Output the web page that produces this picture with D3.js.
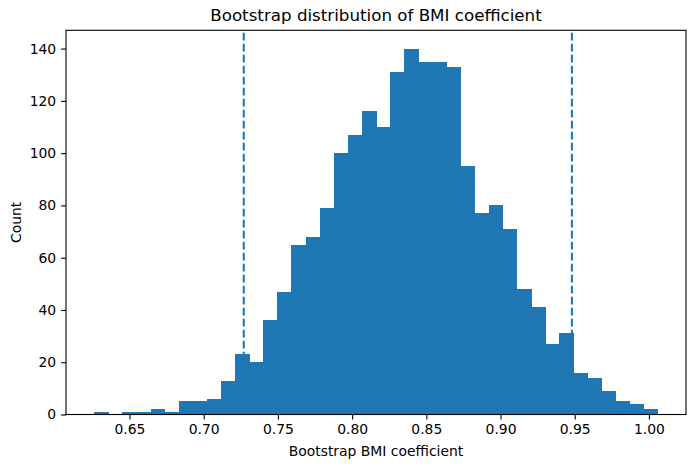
<!DOCTYPE html>
<html>
<head>
<meta charset="utf-8">
<script src="https://cdn.jsdelivr.net/npm/d3@7"></script>
<style>
  html, body { margin: 0; padding: 0; background: #fff; }
  svg { display: block; font-family: "DejaVu Sans", sans-serif; }
</style>
</head>
<body>
<svg id="chart" width="695" height="468"></svg>
<script>
// ---- data ----
const counts = [1, 0, 1, 1, 2, 1, 5, 5, 6, 13, 23, 20, 36, 47, 65, 68, 79, 100, 107, 116,
                110, 131, 140, 135, 135, 133, 95, 77, 80, 71, 48, 41, 27, 31, 16, 14, 9, 5, 4, 2];
const binRange = [0.6262, 1.0060];           // histogram range (min, max of bootstrap samples)
const ciLines = [0.7270, 0.9481];            // 95% CI bounds (dashed lines)
const xTicks = [0.65, 0.70, 0.75, 0.80, 0.85, 0.90, 0.95, 1.00];
const yTicks = [0, 20, 40, 60, 80, 100, 120, 140];
const titleText = "Bootstrap distribution of BMI coefficient";
const xLabelText = "Bootstrap BMI coefficient";
const yLabelText = "Count";

// ---- layout ----
const W = 695, H = 468;
const m = { left: 66, right: 686, top: 30.3, bottom: 414.5 };
const color = "#1f77b4";
const nBins = counts.length;
const bw = (binRange[1] - binRange[0]) / nBins;
const bins = counts.map((c, i) => ({ x0: binRange[0] + i * bw, x1: binRange[0] + (i + 1) * bw, c }));

const span = binRange[1] - binRange[0];
const x = d3.scaleLinear()
  .domain([binRange[0] - 0.05 * span, binRange[1] + 0.05 * span])
  .range([m.left, m.right]);
const y = d3.scaleLinear()
  .domain([0, d3.max(counts) * 1.05])
  .range([m.bottom, m.top]);

const svg = d3.select("#chart");

// bars
svg.append("g").attr("shape-rendering", "crispEdges")
  .selectAll("rect").data(bins.filter(d => d.c > 0)).join("rect")
  .attr("x", d => x(d.x0))
  .attr("width", d => x(d.x1) - x(d.x0) + 0.5)
  .attr("y", d => y(d.c))
  .attr("height", d => y(0) - y(d.c))
  .attr("fill", color);

// CI dashed lines
svg.append("g").selectAll("line").data(ciLines).join("line")
  .attr("x1", d => x(d)).attr("x2", d => x(d))
  .attr("y1", m.bottom).attr("y2", m.top)
  .attr("stroke", color)
  .attr("stroke-width", 2.08)
  .attr("stroke-dasharray", "7.7,3.3");

// axes
const xAxis = d3.axisBottom(x).tickValues(xTicks).tickFormat(d3.format(".2f"))
  .tickSize(4.9).tickPadding(4.9);
const yAxis = d3.axisLeft(y).tickValues(yTicks).tickFormat(d3.format("d"))
  .tickSize(4.9).tickPadding(4.9);

const gx = svg.append("g").attr("transform", `translate(0,${m.bottom})`).call(xAxis);
const gy = svg.append("g").attr("transform", `translate(${m.left},0)`).call(yAxis);
[gx, gy].forEach(g => {
  g.select(".domain").remove();
  g.selectAll(".tick line").attr("stroke", "#000").attr("stroke-width", 1.1);
  g.selectAll(".tick text").attr("fill", "#000")
    .style("font-family", "'DejaVu Sans', sans-serif").style("font-size", "13.9px");
});

// frame
svg.append("rect")
  .attr("x", m.left).attr("y", m.top)
  .attr("width", m.right - m.left).attr("height", m.bottom - m.top)
  .attr("fill", "none").attr("stroke", "#000").attr("stroke-width", 1.1);

// labels
svg.append("text")
  .attr("x", (m.left + m.right) / 2).attr("y", 21)
  .attr("text-anchor", "middle")
  .style("font-size", "16.7px")
  .text(titleText);

svg.append("text")
  .attr("x", (m.left + m.right) / 2).attr("y", 456)
  .attr("text-anchor", "middle")
  .style("font-size", "13.9px")
  .text(xLabelText);

svg.append("text")
  .attr("transform", `translate(21,${(m.top + m.bottom) / 2}) rotate(-90)`)
  .attr("text-anchor", "middle")
  .style("font-size", "13.9px")
  .text(yLabelText);
</script>
</body>
</html>
